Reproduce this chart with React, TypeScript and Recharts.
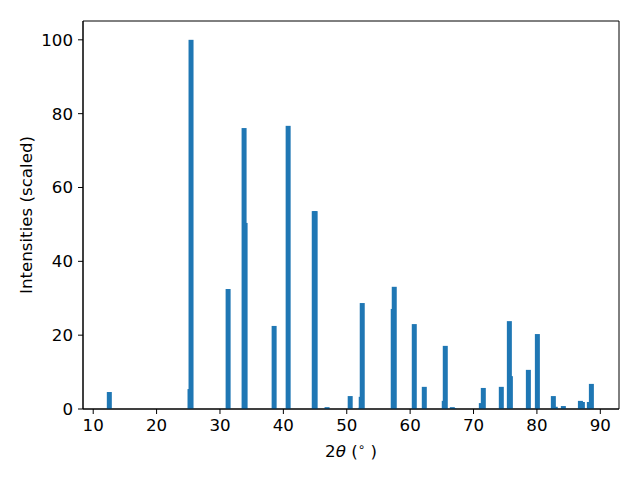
import React from "react";
import {
  BarChart, Bar, XAxis, YAxis, ReferenceArea,
} from "recharts";

// peak positions (2θ, degrees) and scaled intensities
const twoTheta = [
  12.55, 25.28, 25.44, 31.29, 33.81, 33.97, 38.55, 40.76, 44.88, 45.02,
  46.9, 50.55, 52.15, 52.29, 52.45, 57.34, 57.5, 60.66, 62.24, 65.39,
  65.55, 66.66, 66.9, 71.24, 71.55, 74.39, 75.66, 75.82, 78.66, 80.08,
  82.6, 82.9, 84.18, 86.87, 87.18, 88.28, 88.6,
];
const intensities = [
  4.6, 5.4, 100, 32.5, 76.1, 50.4, 22.5, 76.7, 53.6, 53.6,
  0.5, 3.5, 0.3, 3.3, 28.7, 27.1, 33.1, 23.0, 6.0, 2.2,
  17.1, 0.5, 0.25, 1.6, 5.7, 6.0, 23.8, 8.9, 10.6, 20.3,
  3.5, 0.6, 0.8, 2.2, 1.9, 1.9, 6.8,
];
const xTicks = [10, 20, 30, 40, 50, 60, 70, 80, 90];
const yTicks = [0, 20, 40, 60, 80, 100];

const X_DOMAIN: [number, number] = [8.39, 92.95];
const Y_DOMAIN: [number, number] = [0, 105.1];

const data = twoTheta.map((t, i) => ({ t, v: intensities[i] }));

const FONT = "'DejaVu Sans', sans-serif";
const FS = 16.67;
const BLUE = "#1f77b4";
const BAR_W = 5;

// fixed-width bar centred on the band recharts gives us
function PeakBar(props: any) {
  const { x, y, width, height } = props;
  if (!height || height <= 0) return null;
  const cx = x + width / 2;
  return <rect x={cx - BAR_W / 2} y={y} width={BAR_W} height={height} fill={BLUE} />;
}

function XLabel({ viewBox }: any) {
  const cx = viewBox.x + viewBox.width / 2;
  return (
    <text x={cx} y={457} textAnchor="middle" fontFamily={FONT} fontSize={FS} fill="#000">
      2<tspan fontStyle="italic">θ</tspan> (<tspan dy={-6} fontSize={12}>∘</tspan>
      <tspan dy={6}> )</tspan>
    </text>
  );
}

export default function App() {
  return (
    <div style={{ width: 640, height: 480, background: "#fff" }}>
      <style>{"body{margin:0}"}</style>
      <BarChart
        width={640}
        height={480}
        data={data}
        margin={{ top: 21, right: 21, left: 0, bottom: 0 }}
      >
        <XAxis
          dataKey="t"
          type="number"
          domain={X_DOMAIN}
          ticks={xTicks}
          allowDataOverflow
          height={71}
          stroke="#000"
          tickSize={5}
          tickMargin={5}
          tick={{ fontSize: FS, fill: "#000", fontFamily: FONT }}
          label={<XLabel />}
        />
        <YAxis
          type="number"
          domain={Y_DOMAIN}
          ticks={yTicks}
          allowDataOverflow
          width={83}
          stroke="#000"
          tickSize={5}
          tickMargin={5}
          tick={{ fontSize: FS, fill: "#000", fontFamily: FONT }}
          label={{
            value: "Intensities (scaled)",
            angle: -90,
            position: "insideLeft",
            dx: 21,
            style: { fontSize: FS, fill: "#000", fontFamily: FONT, textAnchor: "middle" },
          }}
        />
        <ReferenceArea
          x1={X_DOMAIN[0]}
          x2={X_DOMAIN[1]}
          y1={Y_DOMAIN[0]}
          y2={Y_DOMAIN[1]}
          fill="none"
          stroke="#000"
          strokeWidth={1}
          ifOverflow="visible"
        />
        <Bar dataKey="v" fill={BLUE} barSize={BAR_W} shape={<PeakBar />} isAnimationActive={false} />
      </BarChart>
    </div>
  );
}
